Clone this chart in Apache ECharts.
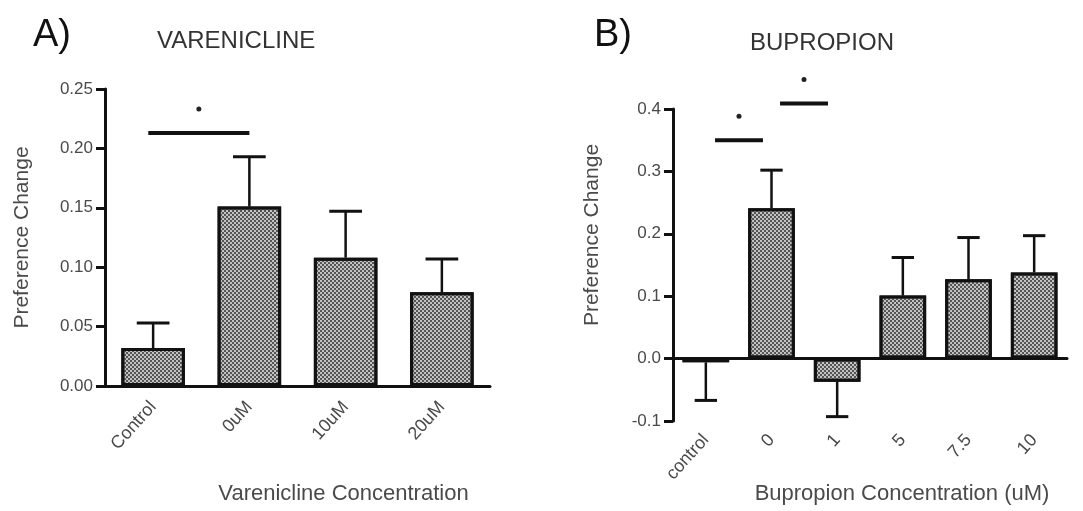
<!DOCTYPE html>
<html>
<head>
<meta charset="utf-8">
<script src="https://cdn.jsdelivr.net/npm/echarts@6.0.0/dist/echarts.min.js"></script>
<style>
  html, body { margin: 0; padding: 0; background: #fff; }
  #chart { width: 1083px; height: 511px; }
</style>
</head>
<body>
<div id="chart"></div>
<script>
// panel A - varenicline
const catsA = ['Control', '0uM', '10uM', '20uM']
const meanA = [0.032, 0.151, 0.108, 0.079]
const semA  = [0.021, 0.042, 0.039, 0.028]
// significance bracket: [from category, to category, height]
const sigA  = [[-0.05, 1.0, 0.213]]

// panel B - bupropion
const catsB = ['control', '0', '1', '5', '7.5', '10']
const meanB = [-0.006, 0.241, -0.037, 0.101, 0.127, 0.138]
const semB  = [0.061, 0.061, 0.056, 0.061, 0.067, 0.059]
const sigB  = [[0.14, 0.87, 0.35], [1.13, 1.86, 0.409]]

const font     = 'Liberation Sans, Arial, sans-serif'
const textGray = '#4a4a4a'

const barStyle = {
  color      : '#c2c2c2',
  borderColor: '#111',
  borderWidth: 3,
  decal: {
    symbol    : 'rect',
    symbolSize: 1,
    color     : '#555555',
    dashArrayX: [[2, 2], [0, 2, 2, 0]],
    dashArrayY: [2, 0]
  }
}

// error bar: line from mean away from zero, with a cap
function errorSeries(means, sems, xi, yi) {
  return {
    type      : 'custom',
    xAxisIndex: xi,
    yAxisIndex: yi,
    z         : 1,
    data      : means.map((m, i) => [i, m, m + (m < 0 ? -sems[i] : sems[i])]),
    renderItem: function (params, api) {
      const p0   = api.coord([api.value(0), api.value(1)])
      const p1   = api.coord([api.value(0), api.value(2)])
      const half = api.size([1, 0])[0] * 0.17
      return {
        type    : 'group',
        children: [
          { type: 'line', shape: { x1: p0[0], y1: p0[1], x2: p1[0], y2: p1[1] }, style: { stroke: '#111', lineWidth: 2.5 } },
          { type: 'line', shape: { x1: p1[0] - half, y1: p1[1], x2: p1[0] + half, y2: p1[1] }, style: { stroke: '#111', lineWidth: 3 } }
        ]
      }
    }
  }
}

function sigSeries(sig, xi, yi) {
  return {
    type      : 'custom',
    xAxisIndex: xi,
    yAxisIndex: yi,
    data      : sig.map(s => [0, s[2]]),
    renderItem: function (params, api) {
      const s    = sig[params.dataIndex]
      const base = api.coord([0, s[2]])
      const band = api.size([1, 0])[0]
      const x1   = base[0] + s[0] * band
      const x2   = base[0] + s[1] * band
      return {
        type    : 'group',
        children: [
          { type: 'line', shape: { x1: x1, y1: base[1], x2: x2, y2: base[1] }, style: { stroke: '#111', lineWidth: 4 } },
          { type: 'circle', shape: { cx: (x1 + x2) / 2, cy: base[1] - 24, r: 2.5 }, style: { fill: '#222' } }
        ]
      }
    }
  }
}

const axisLine = { lineStyle: { color: '#111', width: 3 } }
const axisTick = { length: 9, lineStyle: { color: '#111', width: 3 } }
const tickFont = { color: textGray, fontSize: 17, fontFamily: font }
const catFont  = { color: textGray, fontSize: 18, fontFamily: font }

const chart = echarts.init(document.getElementById('chart'))
chart.setOption({
  animation: false,
  title: [
    { text: 'A)', left: 33, top: 17, padding: 0, textStyle: { fontSize: 38, fontWeight: 'normal', color: '#111', fontFamily: font } },
    { text: 'VARENICLINE', left: 157, top: 29, padding: 0, textStyle: { fontSize: 24, fontWeight: 'normal', color: '#333', fontFamily: font } },
    { text: 'B)', left: 594, top: 17, padding: 0, textStyle: { fontSize: 38, fontWeight: 'normal', color: '#111', fontFamily: font } },
    { text: 'BUPROPION', left: 750, top: 31, padding: 0, textStyle: { fontSize: 24, fontWeight: 'normal', color: '#333', fontFamily: font } }
  ],
  grid: [
    { left: 105, top: 89, width: 385, height: 297, outerBoundsMode: 'none' },
    { left: 673, top: 109, width: 394, height: 312, outerBoundsMode: 'none' }
  ],
  xAxis: [
    {
      gridIndex: 0,
      type     : 'category',
      data     : catsA,
      axisLine : axisLine,
      axisTick : Object.assign({ alignWithLabel: true }, axisTick),
      axisLabel: Object.assign({ rotate: 48, margin: 18 }, catFont),
      name          : 'Varenicline Concentration',
      nameLocation  : 'middle',
      nameGap       : 97,
      nameMoveOverlap: false,
      nameTextStyle : { fontSize: 22, color: textGray, fontFamily: font, padding: [0, 0, 0, 92] }
    },
    {
      gridIndex: 1,
      type     : 'category',
      position : 'bottom',
      data     : catsB,
      axisLine : Object.assign({ onZero: true }, axisLine),
      axisTick : Object.assign({ alignWithLabel: true }, axisTick),
      axisLabel: { show: false }
    },
    {
      gridIndex: 1,
      type     : 'category',
      position : 'bottom',
      data     : catsB,
      axisLine : { show: false, onZero: false },
      axisTick : { show: false },
      axisLabel: Object.assign({ rotate: 48, margin: 16 }, catFont),
      name          : 'Bupropion Concentration (uM)',
      nameLocation  : 'middle',
      nameGap       : 62,
      nameMoveOverlap: false,
      nameTextStyle : { fontSize: 22, color: textGray, fontFamily: font, padding: [0, 0, 0, 64] }
    }
  ],
  yAxis: [
    {
      gridIndex: 0,
      type     : 'value',
      min      : 0,
      max      : 0.25,
      interval : 0.05,
      splitLine: { show: false },
      axisLine : Object.assign({ show: true }, axisLine),
      axisTick : Object.assign({ show: true }, axisTick),
      axisLabel: Object.assign({ margin: 12, formatter: v => v.toFixed(2) }, tickFont),
      name          : 'Preference Change',
      nameLocation  : 'middle',
      nameGap       : 72,
      nameTextStyle : { fontSize: 21, color: textGray, fontFamily: font }
    },
    {
      gridIndex: 1,
      type     : 'value',
      min      : -0.1,
      max      : 0.4,
      interval : 0.1,
      splitLine: { show: false },
      axisLine : Object.assign({ show: true, onZero: false }, axisLine),
      axisTick : Object.assign({ show: true }, axisTick),
      axisLabel: Object.assign({ margin: 12, formatter: v => v.toFixed(1) }, tickFont),
      name          : 'Preference Change',
      nameLocation  : 'middle',
      nameGap       : 70,
      nameTextStyle : { fontSize: 21, color: textGray, fontFamily: font, padding: [0, 0, 0, 60] }
    }
  ],
  series: [
    { type: 'bar', xAxisIndex: 0, yAxisIndex: 0, data: meanA, barWidth: '66%', itemStyle: barStyle, z: 2 },
    errorSeries(meanA, semA, 0, 0),
    sigSeries(sigA, 0, 0),
    { type: 'bar', xAxisIndex: 1, yAxisIndex: 1, data: meanB, barWidth: '71%', itemStyle: barStyle, z: 2 },
    errorSeries(meanB, semB, 1, 1),
    sigSeries(sigB, 1, 1)
  ]
})
</script>
</body>
</html>
